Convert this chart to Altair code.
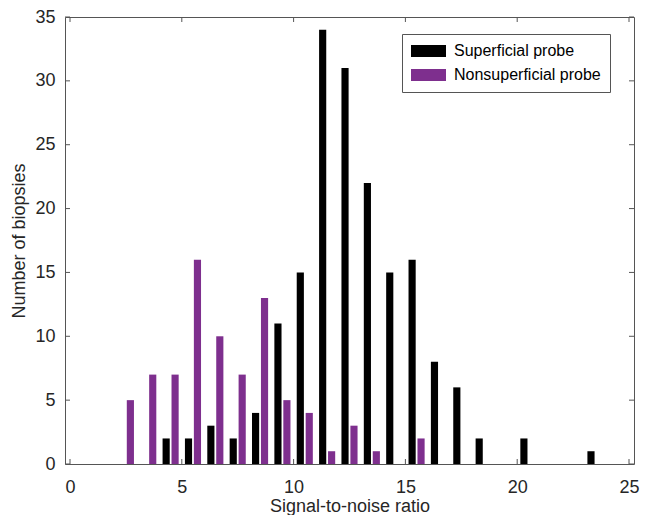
import altair as alt
import pandas as pd

# ---- data ----
sup_bins = [4, 5, 6, 7, 8, 9, 10, 11, 12, 13, 14, 15, 16, 17, 18, 20, 23]
sup_counts = [2, 2, 3, 2, 4, 11, 15, 34, 31, 22, 15, 16, 8, 6, 2, 2, 1]
non_bins = [3, 4, 5, 6, 7, 8, 9, 10, 11, 12, 13, 14, 16]
non_counts = [5, 7, 7, 16, 10, 7, 13, 5, 4, 1, 3, 1, 2]
series = ["Superficial probe", "Nonsuperficial probe"]
colors = ["#000000", "#7E2F8E"]
x_ticks = [0, 5, 10, 15, 20, 25]
y_ticks = [0, 5, 10, 15, 20, 25, 30, 35]

df = pd.concat([
    pd.DataFrame({"bin": sup_bins, "count": sup_counts, "probe": series[0]}),
    pd.DataFrame({"bin": non_bins, "count": non_counts, "probe": series[1]}),
], ignore_index=True)

W, H = 569, 447
FONT = "Liberation Sans"

xscale = alt.Scale(domain=[0, 25], nice=False, zero=False)
yscale = alt.Scale(domain=[0, 35], nice=False)

bars = alt.Chart(df).transform_calculate(
    center="datum.bin + (datum.probe == 'Superficial probe' ? 0.3 : -0.3)",
    x0="datum.center - 0.16",
    x1="datum.center + 0.16",
).mark_bar(orient="vertical").encode(
    x=alt.X("x0:Q", scale=xscale,
            axis=alt.Axis(values=x_ticks, title="Signal-to-noise ratio",
                          labelPadding=14, titlePadding=1)),
    x2="x1:Q",
    y=alt.Y("count:Q", scale=yscale,
            axis=alt.Axis(values=y_ticks, title="Number of biopsies",
                          labelPadding=10, titlePadding=6)),
    y2=alt.datum(0),
    color=alt.Color("probe:N", scale=alt.Scale(domain=series, range=colors),
                    sort=series,
                    legend=alt.Legend(
                        title=None, orient="none", legendX=337, legendY=17,
                        symbolType="M-1,-0.34H1V0.34H-1Z", symbolSize=1225,
                        symbolStrokeWidth=0, symbolOpacity=1, clipHeight=16,
                        labelFontSize=16, labelFont=FONT, labelColor="#000000",
                        labelOffset=8, rowPadding=8, padding=9,
                        strokeColor="#555555", fillColor="#ffffff")),
)

xt = pd.DataFrame({"t": x_ticks})
yt = pd.DataFrame({"t": y_ticks})
TL = 5
tick_color = "#555555"

bottom_ticks = alt.Chart(xt).mark_rule(color=tick_color, strokeWidth=1).encode(
    x=alt.X("t:Q", scale=xscale), y=alt.value(H), y2=alt.value(H - TL))
top_ticks = alt.Chart(xt).mark_rule(color=tick_color, strokeWidth=1).encode(
    x=alt.X("t:Q", scale=xscale), y=alt.value(0), y2=alt.value(TL))
left_ticks = alt.Chart(yt).mark_rule(color=tick_color, strokeWidth=1).encode(
    y=alt.Y("t:Q", scale=yscale), x=alt.value(0), x2=alt.value(TL))
right_ticks = alt.Chart(yt).mark_rule(color=tick_color, strokeWidth=1).encode(
    y=alt.Y("t:Q", scale=yscale), x=alt.value(W), x2=alt.value(W - TL))

chart = alt.layer(bars, bottom_ticks, top_ticks, left_ticks, right_ticks).properties(
    width=W, height=H,
    padding={"left": 2, "top": 0, "right": 0, "bottom": 0},
).configure_view(
    stroke="#555555", strokeWidth=1
).configure_axis(
    grid=False, domain=False, ticks=False, tickSize=0,
    labelFont=FONT, titleFont=FONT, labelFontSize=18, titleFontSize=18,
    labelColor="#262626", titleColor="#262626", titleFontWeight="normal",
)

chart.save("out.html", embed_options={"renderer": "svg", "actions": False})
